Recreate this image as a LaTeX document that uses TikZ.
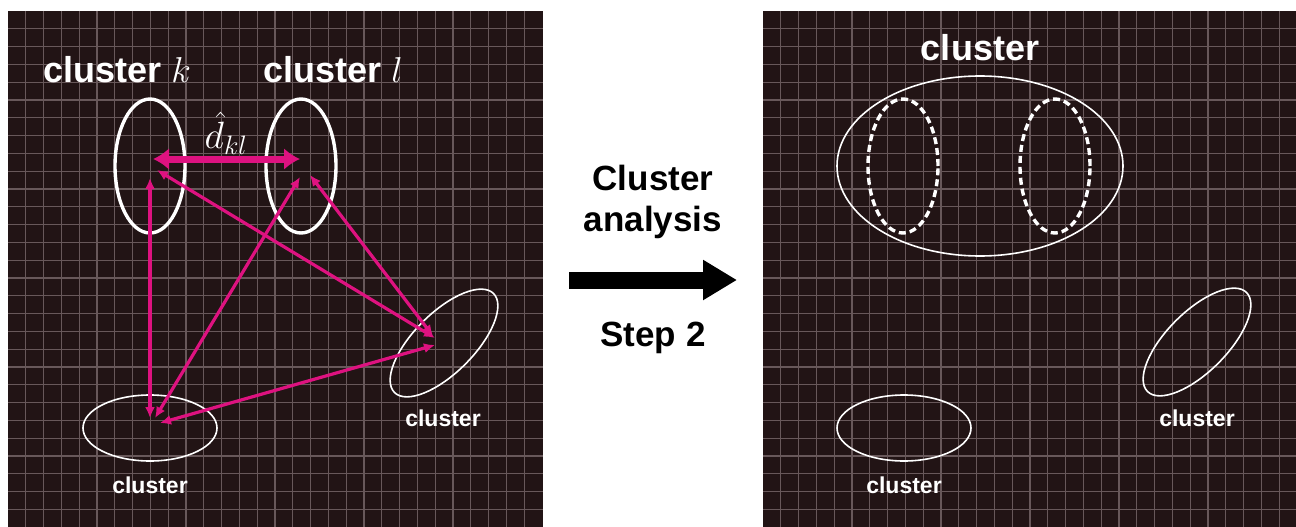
\RequirePackage{fix-cm}
\documentclass[tikz,border=0pt]{standalone}
\usepackage{fontspec}
\setmainfont{Liberation Sans}
\usepackage{tikz}
\usetikzlibrary{arrows.meta}
\usetikzlibrary{shapes.geometric}

\definecolor{bgdark}{RGB}{34,20,21}
\definecolor{gridc}{RGB}{104,88,90}
\definecolor{mag}{RGB}{222,18,128}

\begin{document}
\begin{tikzpicture}[x=1pt,y=-1pt,>/.tip={Latex[length=11pt,width=10pt]},
	grd/.style={draw=gridc,line width=1.1pt},
	clus/.style={draw=white,ellipse,inner sep=0pt,line width=1.6pt},
	fat/.style={line width=3.4pt},
	dclus/.style={clus,line width=3.4pt,dash pattern=on 7pt off 4pt},
	lbl/.style={text=white,inner sep=0pt,font=\bfseries\fontsize{36}{40}\selectfont},
	sml/.style={text=white,inner sep=0pt,font=\bfseries\fontsize{23}{26}\selectfont},
	mid/.style={text=black,inner sep=0pt,align=center,font=\bfseries\fontsize{35}{41}\selectfont},
	link/.style={draw=mag,line width=3.2pt,<->},
	dist/.style={draw=mag,line width=7pt,arrows={Latex[length=16pt,width=22pt]-Latex[length=16pt,width=22pt]}}]
\useasboundingbox (0,0) rectangle (1296,527);
\fill[white] (0,0) rectangle (1296,527);

% two dark panels with grid
\foreach \px/\pw in {8/535,763/533} {
	\fill[bgdark] (\px,11) rectangle ++(\pw,516);
	\foreach \i in {1,...,29}
		\draw[grd] ({\px+17.8*\i},11) -- ++(0,516);
	\foreach \j in {1,...,28}
		\draw[grd] (\px,{11+17.8*\j}) -- ++(\pw,0);
}

% left panel
\node[lbl] (tk) at (117,70) {cluster $k$};
\node[lbl] (tl) at (333,70) {cluster $l$};
\node[clus,fat,minimum width=70,minimum height=134] (ek) at (150,166) {};
\node[clus,fat,minimum width=70,minimum height=134] (el) at (301,166) {};
\node[clus,minimum width=134,minimum height=66] (eb) at (150,428) {};
\node[clus,minimum width=140,minimum height=60,rotate=45] (er) at (444,343) {};
\node[sml] (lb) at (150,485) {cluster};
\node[sml] (lr) at (443,418) {cluster};
\node[text=white,inner sep=0pt,font=\fontsize{38}{38}\selectfont] (dk) at (226,133) {$\hat{d}_{kl}$};

\coordinate (kd) at (153,159);
\coordinate (ld) at (300,159);
\draw[dist] (kd) -- (ld);

\coordinate (k1) at (150,178);
\coordinate (k2) at (157,170);
\coordinate (l1) at (310,175);
\coordinate (l2) at (300,177);
\coordinate (b1) at (150,418);
\coordinate (b2) at (155,418);
\coordinate (b3) at (160,423);
\coordinate (r1) at (435,338);
\coordinate (r2) at (433,336);
\coordinate (r3) at (435,345);
\draw[link] (k1) -- (b1);
\draw[link] (k2) -- (r1);
\draw[link] (l1) -- (r2);
\draw[link] (l2) -- (b2);
\draw[link] (b3) -- (r3);

% middle
\node[mid] (ca) at (653,202) {Cluster\\analysis};
\coordinate (sa) at (569,280);
\coordinate (sb) at (737,280);
\draw[line width=17pt,-{Triangle[length=34pt,width=38pt]}] (sa) -- (sb);
\node[mid] (st) at (653,338) {Step 2};

% right panel
\node[lbl] (tc) at (980,48) {cluster};
\node[clus,minimum width=286,minimum height=180] (eall) at (980,166) {};
\node[dclus,minimum width=70,minimum height=134] (ek2) at (903,166) {};
\node[dclus,minimum width=70,minimum height=134] (el2) at (1055,166) {};
\node[clus,minimum width=134,minimum height=66] (eb2) at (904,428) {};
\node[clus,minimum width=140,minimum height=60,rotate=45] (er2) at (1197,342) {};
\node[sml] (lb2) at (904,485) {cluster};
\node[sml] (lr2) at (1197,418) {cluster};
\end{tikzpicture}
\end{document}
